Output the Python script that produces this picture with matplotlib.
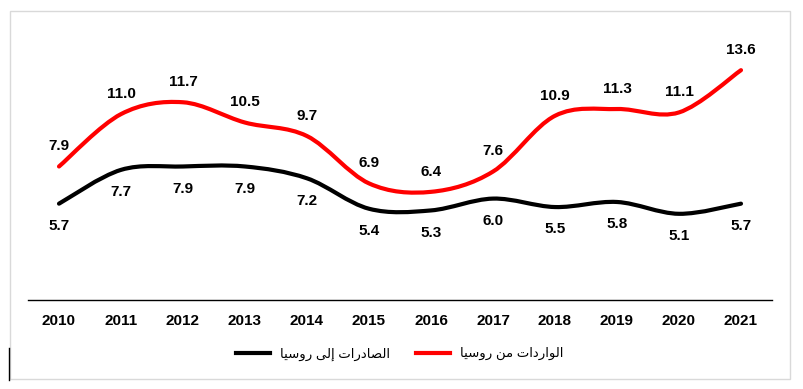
import matplotlib
matplotlib.use("Agg")
import matplotlib.pyplot as plt
from matplotlib.path import Path
from matplotlib.patches import PathPatch, Rectangle
from matplotlib.lines import Line2D

years = ["2010", "2011", "2012", "2013", "2014", "2015",
         "2016", "2017", "2018", "2019", "2020", "2021"]
exports = [5.7, 7.7, 7.9, 7.9, 7.2, 5.4, 5.3, 6.0, 5.5, 5.8, 5.1, 5.7]
imports = [7.9, 11.0, 11.7, 10.5, 9.7, 6.9, 6.4, 7.6, 10.9, 11.3, 11.1, 13.6]
label_exports = "الصادرات إلى روسيا"
label_imports = "الواردات من روسيا"

# arabic letters -> (isolated, final, initial, medial)
FORMS = {
    'ا': ('\uFE8D', '\uFE8E', None, None),
    'إ': ('\uFE87', '\uFE88', None, None),
    'ل': ('\uFEDD', '\uFEDE', '\uFEDF', '\uFEE0'),
    'و': ('\uFEED', '\uFEEE', None, None),
    'ر': ('\uFEAD', '\uFEAE', None, None),
    'د': ('\uFEA9', '\uFEAA', None, None),
    'ت': ('\uFE95', '\uFE96', '\uFE97', '\uFE98'),
    'م': ('\uFEE1', '\uFEE2', '\uFEE3', '\uFEE4'),
    'ن': ('\uFEE5', '\uFEE6', '\uFEE7', '\uFEE8'),
    'س': ('\uFEB1', '\uFEB2', '\uFEB3', '\uFEB4'),
    'ي': ('\uFEF1', '\uFEF2', '\uFEF3', '\uFEF4'),
    'ص': ('\uFEB9', '\uFEBA', '\uFEBB', '\uFEBC'),
    'ى': ('\uFEEF', '\uFEF0', '\uFBE8', '\uFBE9'),
}


def shape(s):
    out = []
    for i, ch in enumerate(s):
        f = FORMS.get(ch)
        if f is None:
            out.append(ch)
            continue
        prev = s[i - 1] if i > 0 else ''
        nxt = s[i + 1] if i + 1 < len(s) else ''
        jp = prev in FORMS and FORMS[prev][2] is not None
        jn = nxt in FORMS and f[2] is not None
        if jp and jn:
            out.append(f[3])
        elif jp:
            out.append(f[1])
        elif jn:
            out.append(f[2])
        else:
            out.append(f[0])
    return ''.join(out)[::-1]


def smooth_path(xs, ys):
    # bezier smoothing similar to spreadsheet "smoothed line"
    pts = list(zip(xs, ys))
    n = len(pts)
    verts = [pts[0]]
    codes = [Path.MOVETO]
    for i in range(n - 1):
        p0 = pts[i - 1] if i > 0 else pts[i]
        p1 = pts[i]
        p2 = pts[i + 1]
        p3 = pts[i + 2] if i + 2 < n else pts[i + 1]
        c1 = (p1[0] + (p2[0] - p0[0]) / 6, p1[1] + (p2[1] - p0[1]) / 6)
        c2 = (p2[0] - (p3[0] - p1[0]) / 6, p2[1] - (p3[1] - p1[1]) / 6)
        verts += [c1, c2, p2]
        codes += [Path.CURVE4] * 3
    return Path(verts, codes)


plt.rcParams['font.family'] = ['Liberation Sans', 'DejaVu Sans']

fig = plt.figure(figsize=(8.04, 3.89), dpi=100)
ax = fig.add_axes([28 / 804, 1 - 300 / 389, (772 - 28) / 804, (300 - 29.6) / 389])

x = list(range(len(years)))
ax.add_patch(PathPatch(smooth_path(x, exports), fill=False, edgecolor="black",
                       lw=3, capstyle="round"))
ax.add_patch(PathPatch(smooth_path(x, imports), fill=False, edgecolor="#ff0000",
                       lw=3, capstyle="round"))

for i in x:
    ax.annotate(f"{exports[i]:.1f}", (i, exports[i]), xytext=(0, -16),
                textcoords="offset points", ha="center", va="center",
                fontsize=11, fontweight="bold")
    ax.annotate(f"{imports[i]:.1f}", (i, imports[i]), xytext=(0, 14.5),
                textcoords="offset points", ha="center", va="center",
                fontsize=11, fontweight="bold")

ax.set_xlim(-0.5, len(years) - 0.5)
ax.set_ylim(0, 16)
ax.set_xticks(x)
ax.set_xticklabels(years, fontsize=11, fontweight="bold")
ax.tick_params(axis="x", length=0, pad=10)
ax.set_yticks([])
for side in ["top", "right", "left"]:
    ax.spines[side].set_visible(False)
ax.spines["bottom"].set_linewidth(1)

handles = [Line2D([], [], color="black", lw=3),
           Line2D([], [], color="#ff0000", lw=3)]
fig.legend(handles, [shape(label_exports), shape(label_imports)],
           loc="center", bbox_to_anchor=(399.5 / 804, 1 - 354 / 389),
           ncol=2, frameon=False, fontsize=9.5, handlelength=2.6,
           handletextpad=0.7, columnspacing=2.0)

fig.add_artist(Rectangle((10 / 804, 1 - 379 / 389), 780 / 804, 368 / 389,
                         transform=fig.transFigure, fill=False,
                         edgecolor="#d9d9d9", lw=1))
fig.add_artist(Line2D([9.5 / 804, 9.5 / 804], [1 - 380 / 389, 1 - 348 / 389],
                      transform=fig.transFigure, color="black", lw=1))

fig.savefig("out.png", dpi=100)
